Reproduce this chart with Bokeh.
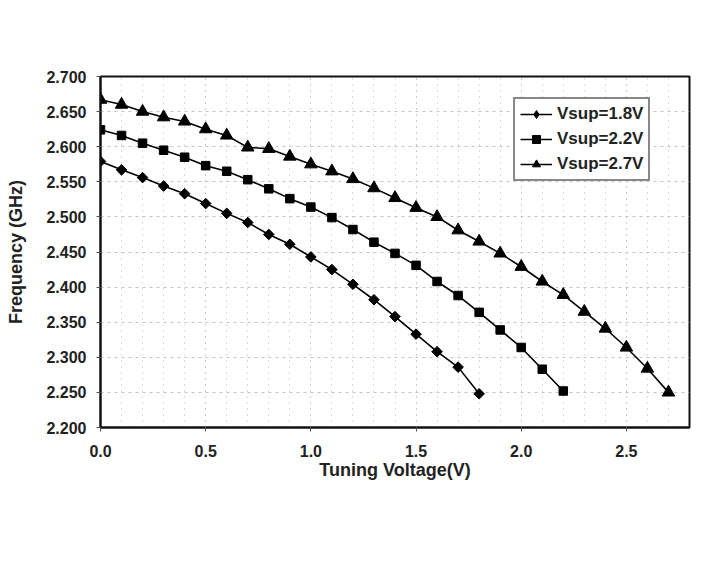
import math
from bokeh.plotting import figure
from bokeh.models import SingleIntervalTicker, NumeralTickFormatter, Range1d, Legend, LegendItem
from bokeh.embed import file_html
from bokeh.resources import INLINE

v18 = [0.0, 0.1, 0.2, 0.3, 0.4, 0.5, 0.6, 0.7, 0.8, 0.9, 1.0, 1.1, 1.2, 1.3, 1.4, 1.5, 1.6, 1.7, 1.8]
f18 = [2.579, 2.567, 2.556, 2.544, 2.533, 2.519, 2.505, 2.492, 2.475, 2.461, 2.443,
       2.425, 2.404, 2.382, 2.358, 2.333, 2.308, 2.286, 2.248]

v22 = [0.0, 0.1, 0.2, 0.3, 0.4, 0.5, 0.6, 0.7, 0.8, 0.9, 1.0, 1.1, 1.2, 1.3, 1.4, 1.5,
       1.6, 1.7, 1.8, 1.9, 2.0, 2.1, 2.2]
f22 = [2.624, 2.616, 2.605, 2.595, 2.585, 2.573, 2.565, 2.553, 2.540, 2.526, 2.514,
       2.499, 2.482, 2.464, 2.448, 2.431, 2.408, 2.388, 2.364, 2.339, 2.314, 2.283, 2.252]

v27 = [0.0, 0.1, 0.2, 0.3, 0.4, 0.5, 0.6, 0.7, 0.8, 0.9, 1.0, 1.1, 1.2, 1.3, 1.4, 1.5,
       1.6, 1.7, 1.8, 1.9, 2.0, 2.1, 2.2, 2.3, 2.4, 2.5, 2.6, 2.7]
f27 = [2.667, 2.660, 2.650, 2.642, 2.636, 2.625, 2.616, 2.599, 2.597, 2.586, 2.575,
       2.565, 2.554, 2.541, 2.527, 2.513, 2.500, 2.481, 2.465, 2.448, 2.429, 2.408,
       2.389, 2.365, 2.341, 2.314, 2.284, 2.250]

labels = ["Vsup=1.8V", "Vsup=2.2V", "Vsup=2.7V"]

FONT = "Liberation Sans"
TXT = "#222222"

p = figure(frame_width=589, frame_height=351, output_backend="svg", toolbar_location=None,
           x_range=Range1d(0, 2.8), y_range=Range1d(2.2, 2.7),
           min_border_left=100, min_border_right=12, min_border_top=76, min_border_bottom=138)
p.background_fill_color = "white"
p.border_fill_color = "white"
p.outline_line_color = "#111111"
p.outline_line_width = 2

p.xaxis.ticker = SingleIntervalTicker(interval=0.5, num_minor_ticks=5)
p.yaxis.ticker = SingleIntervalTicker(interval=0.05, num_minor_ticks=0)
p.xaxis.formatter = NumeralTickFormatter(format="0.0")
p.yaxis.formatter = NumeralTickFormatter(format="0.000")

for ax in (p.xaxis, p.yaxis):
    ax.axis_line_color = "#111111"
    ax.axis_line_width = 2
    ax.major_tick_line_color = "#555555"
    ax.major_tick_out = 4
    ax.major_tick_in = 0
    ax.minor_tick_line_color = None
    ax.major_label_text_font = FONT
    ax.major_label_text_font_style = "bold"
    ax.major_label_text_font_size = "16px"
    ax.major_label_text_color = TXT
    ax.axis_label_text_font = FONT
    ax.axis_label_text_font_style = "bold"
    ax.axis_label_text_font_size = "18px"
    ax.axis_label_text_color = TXT

p.xaxis.axis_label = "Tuning Voltage(V)"
p.yaxis.axis_label = "Frequency (GHz)"
p.xaxis.major_label_standoff = 13
p.yaxis.major_label_standoff = 10
p.xaxis.axis_label_standoff = 0
p.yaxis.axis_label_standoff = 17

p.xgrid.grid_line_color = "#bbbbbb"
p.xgrid.grid_line_dash = "1 5"
p.xgrid.minor_grid_line_color = "#bbbbbb"
p.xgrid.minor_grid_line_dash = "1 5"
p.ygrid.grid_line_color = "#c4c4c4"
p.ygrid.grid_line_dash = "3 4"

r1l = p.line(v18, f18, line_color="black", line_width=1.6)
# diamond shown in the legend; sits hidden beneath the first rotated-square marker
r1k = p.scatter(v18[:1], f18[:1], marker="diamond", size=10.5, fill_color="black", line_color="black")
r1m = p.scatter(v18, f18, marker="square", size=7.5, angle=math.pi / 4,
                fill_color="black", line_color="black")
r2l = p.line(v22, f22, line_color="black", line_width=1.6)
r2m = p.scatter(v22, f22, marker="square", size=8.5, fill_color="black", line_color="black")
r3l = p.line(v27, f27, line_color="black", line_width=1.6)
r3m = p.scatter(v27, f27, marker="triangle", size=12.5, fill_color="black", line_color="black")

legend = Legend(items=[LegendItem(label=labels[0], renderers=[r1l, r1k]),
                       LegendItem(label=labels[1], renderers=[r2l, r2m]),
                       LegendItem(label=labels[2], renderers=[r3l, r3m])],
                location=(413, 246))
legend.border_line_color = "#111111"
legend.border_line_width = 2
legend.background_fill_color = "white"
legend.background_fill_alpha = 1
legend.glyph_width = 32
legend.glyph_height = 20
legend.label_height = 20
legend.label_standoff = 5
legend.spacing = 5
legend.padding = 5
legend.margin = 0
legend.label_text_font = FONT
legend.label_text_font_style = "bold"
legend.label_text_font_size = "17px"
legend.label_text_color = TXT
p.add_layout(legend, "center")

open("out.html", "w").write(file_html(p, INLINE))
